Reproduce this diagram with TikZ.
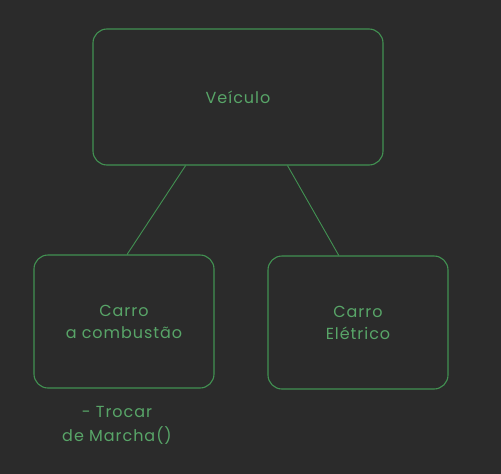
\documentclass[tikz,border=0pt]{standalone}
\usepackage{fontspec}
\setmainfont{Poppins}[LetterSpace=6]
\usepackage{xcolor}
\usepackage{tikz}
\usetikzlibrary{calc,positioning}
\definecolor{bgdark}{RGB}{43,43,43}
\definecolor{linegreen}{RGB}{66,145,82}
\definecolor{textgreen}{RGB}{88,165,104}

\tikzset{
  classe/.style={draw=linegreen, line width=1.1pt, rounded corners=14pt, text=textgreen,
    align=center, font=\fontsize{16}{22}\selectfont, inner sep=0pt},
  ligacao/.style={draw=linegreen, line width=0.9pt}
}

\begin{document}
\begin{tikzpicture}[x=1pt,y=-1pt]
\fill[bgdark] (0,0) rectangle (501,474);
\useasboundingbox (0,0) rectangle (501,474);
\node[classe, minimum width=290pt, minimum height=136pt] (veiculo) at (238,97) {Veículo};
\node[classe, minimum width=180pt, minimum height=133pt] (combustao) at (124,321.5) {Carro\\a combustão};
\node[classe, minimum width=180pt, minimum height=133pt] (eletrico) at (358,322.5) {Carro\\Elétrico};
\node[text=textgreen, align=center, font=\fontsize{16}{24}\selectfont] (metodo) at (117,425) {- Trocar\\de Marcha()};
\draw[ligacao] ($(veiculo.south west)!0.32!(veiculo.south east)$) -- ($(combustao.north west)!0.517!(combustao.north east)$);
\draw[ligacao] ($(veiculo.south west)!0.67!(veiculo.south east)$) -- ($(eletrico.north west)!0.394!(eletrico.north east)$);
\end{tikzpicture}
\end{document}
